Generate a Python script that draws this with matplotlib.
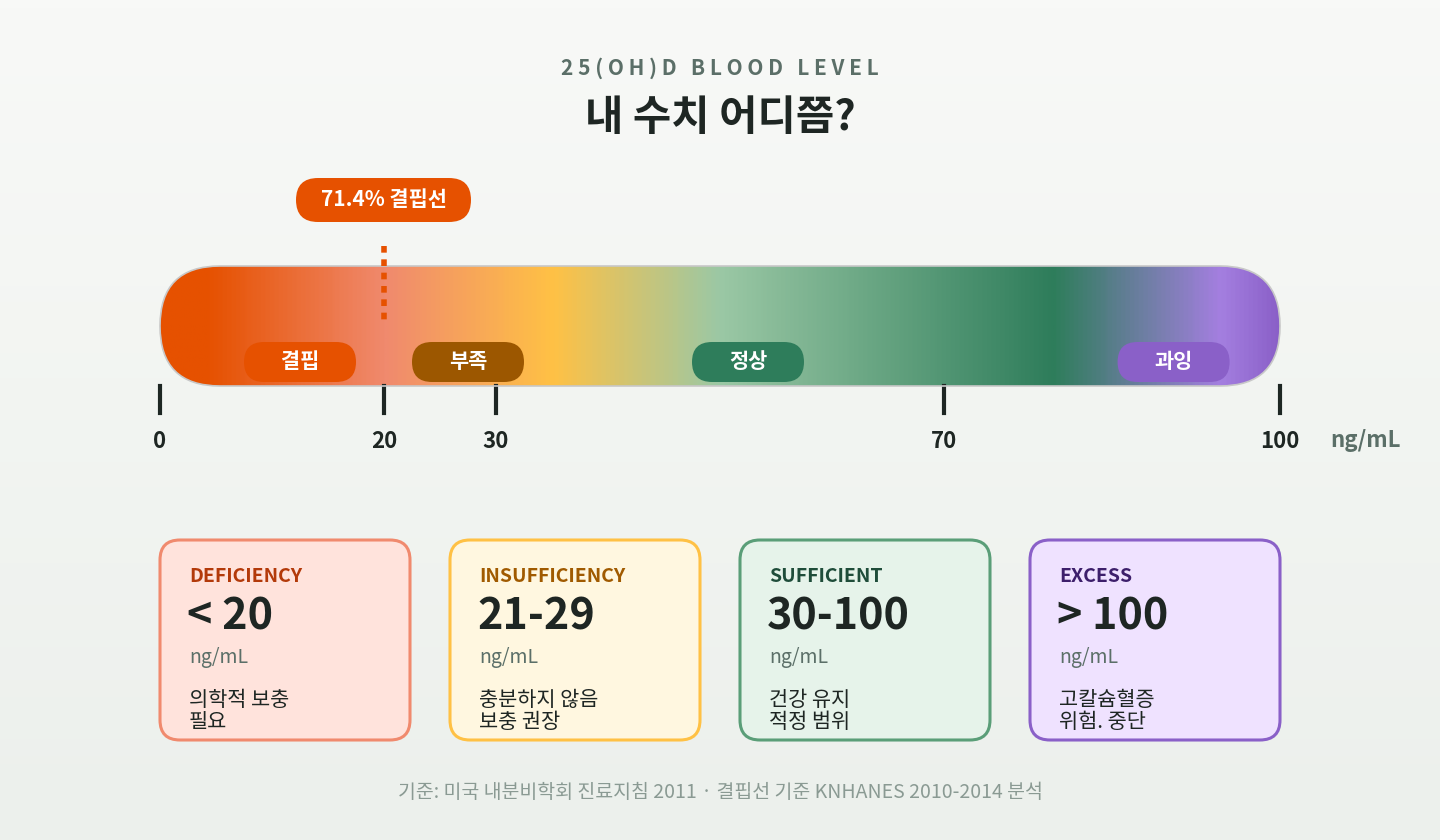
import numpy as np
import matplotlib.pyplot as plt
from matplotlib.patches import FancyBboxPatch
from matplotlib.colors import LinearSegmentedColormap

plt.rcParams['font.family'] = ['Noto Sans CJK KR', 'DejaVu Sans']

# data
ticks = [0, 20, 30, 70, 100]
zones = ['결핍', '부족', '정상', '과잉']
zone_pos = [12.5, 27.5, 52.5, 90.5]
zone_colors = ['#E65100', '#9C5700', '#2E7D5B', '#8A60C8']
cutoff = 20
cutoff_label = '71.4% 결핍선'
card_keys = ['DEFICIENCY', 'INSUFFICIENCY', 'SUFFICIENT', 'EXCESS']
card_values = ['< 20', '21-29', '30-100', '> 100']
card_notes = ['의학적 보충\n필요', '충분하지 않음\n보충 권장', '건강 유지\n적정 범위', '고칼슘혈증\n위험. 중단']
card_fill = ['#FFE3DC', '#FFF7E0', '#E6F3EA', '#EFE2FF']
card_edge = ['#F08A6E', '#FFC145', '#5A9E78', '#8A60C8']
card_title = ['#B33A0A', '#A05A00', '#1F4D3A', '#3D1F6B']

X0, X1 = 160, 1280


def xv(v):
    return X0 + v * (X1 - X0) / 100


def pill(x, y, w, h, r, **kw):
    ax.add_patch(FancyBboxPatch((x, y), w, h, boxstyle=f'round,pad=0,rounding_size={r}', **kw))


fig = plt.figure(figsize=(14.4, 8.4), dpi=100)
ax = fig.add_axes([0, 0, 1, 1])
ax.set_xlim(0, 1440)
ax.set_ylim(840, 0)
ax.axis('off')

bg = LinearSegmentedColormap.from_list('bg', ['#F8F9F7', '#ECF0EC'])
ax.imshow(np.linspace(0, 1, 100).reshape(-1, 1), cmap=bg, extent=[0, 1440, 840, 0], aspect='auto', zorder=0)

ax.text(720, 68, '   '.join(' '.join(w) for w in '25(OH)D BLOOD LEVEL'.split()), ha='center', va='center',
        fontsize=15, fontweight='bold', color='#5B6F68')
ax.text(720, 118, '내 수치 어디쯤?', ha='center', va='center', fontsize=30, fontweight='bold', color='#1E2623')

# gradient bar
stops = [(0, '#E65100'), (0.04, '#E65100'), (0.2, '#F08A6E'), (0.35, '#FFC145'), (0.5, '#9BC8A5'),
         (0.8, '#2E7D5B'), (0.95, '#A47FE0'), (1.0, '#8A60C8')]
cm = LinearSegmentedColormap.from_list('bar', stops)
bar = FancyBboxPatch((X0, 266), X1 - X0, 120, boxstyle='round,pad=0,rounding_size=60',
                     facecolor='none', edgecolor='#C8C8C8', lw=1.2, zorder=3)
ax.add_patch(bar)
img = ax.imshow(np.linspace(0, 1, 500).reshape(1, -1), cmap=cm, extent=[X0, X1, 386, 266], aspect='auto', zorder=2)
img.set_clip_path(bar)

# cutoff
ax.plot([xv(cutoff)] * 2, [246, 324], color='#E65100', lw=4, ls=(0, (1.2, 1.2)), zorder=4)
pill(296, 178, 175, 44, 22, facecolor='#E65100', edgecolor='none', zorder=4)
ax.text(384, 200, cutoff_label, ha='center', va='center', fontsize=15, fontweight='bold', color='white', zorder=5)

for name, p, c in zip(zones, zone_pos, zone_colors):
    pill(xv(p) - 56, 342, 112, 40, 20, facecolor=c, edgecolor='none', zorder=4)
    ax.text(xv(p), 361, name, ha='center', va='center', fontsize=15, fontweight='bold', color='white', zorder=5)

for t in ticks:
    ax.plot([xv(t)] * 2, [386, 413], color='#1E2623', lw=3)
    ax.text(xv(t), 441, str(t), ha='center', va='center', fontsize=16, fontweight='bold', color='#1E2623')
ax.text(1366, 441, 'ng/mL', ha='center', va='center', fontsize=16, fontweight='bold', color='#5B6F68')

# cards
for i in range(4):
    cx = 160 + i * 290
    pill(cx, 540, 250, 200, 20, facecolor=card_fill[i], edgecolor=card_edge[i], lw=2.2)
    ax.text(cx + 29, 577, card_keys[i], ha='left', va='center', fontsize=14, fontweight='bold', color=card_title[i])
    ax.text(cx + 27, 617, card_values[i], ha='left', va='center', fontsize=31, fontweight='bold', color='#1E2623')
    ax.text(cx + 29, 657, 'ng/mL', ha='left', va='center', fontsize=14, color='#5B6F68')
    ax.text(cx + 29, 711, card_notes[i], ha='left', va='center', fontsize=15, color='#1E2623', linespacing=0.95)

ax.text(720, 792, '기준: 미국 내분비학회 진료지침 2011 · 결핍선 기준 KNHANES 2010-2014 분석', ha='center', va='center',
        fontsize=14, color='#8A9A93')

fig.savefig('out.png', dpi=100)
